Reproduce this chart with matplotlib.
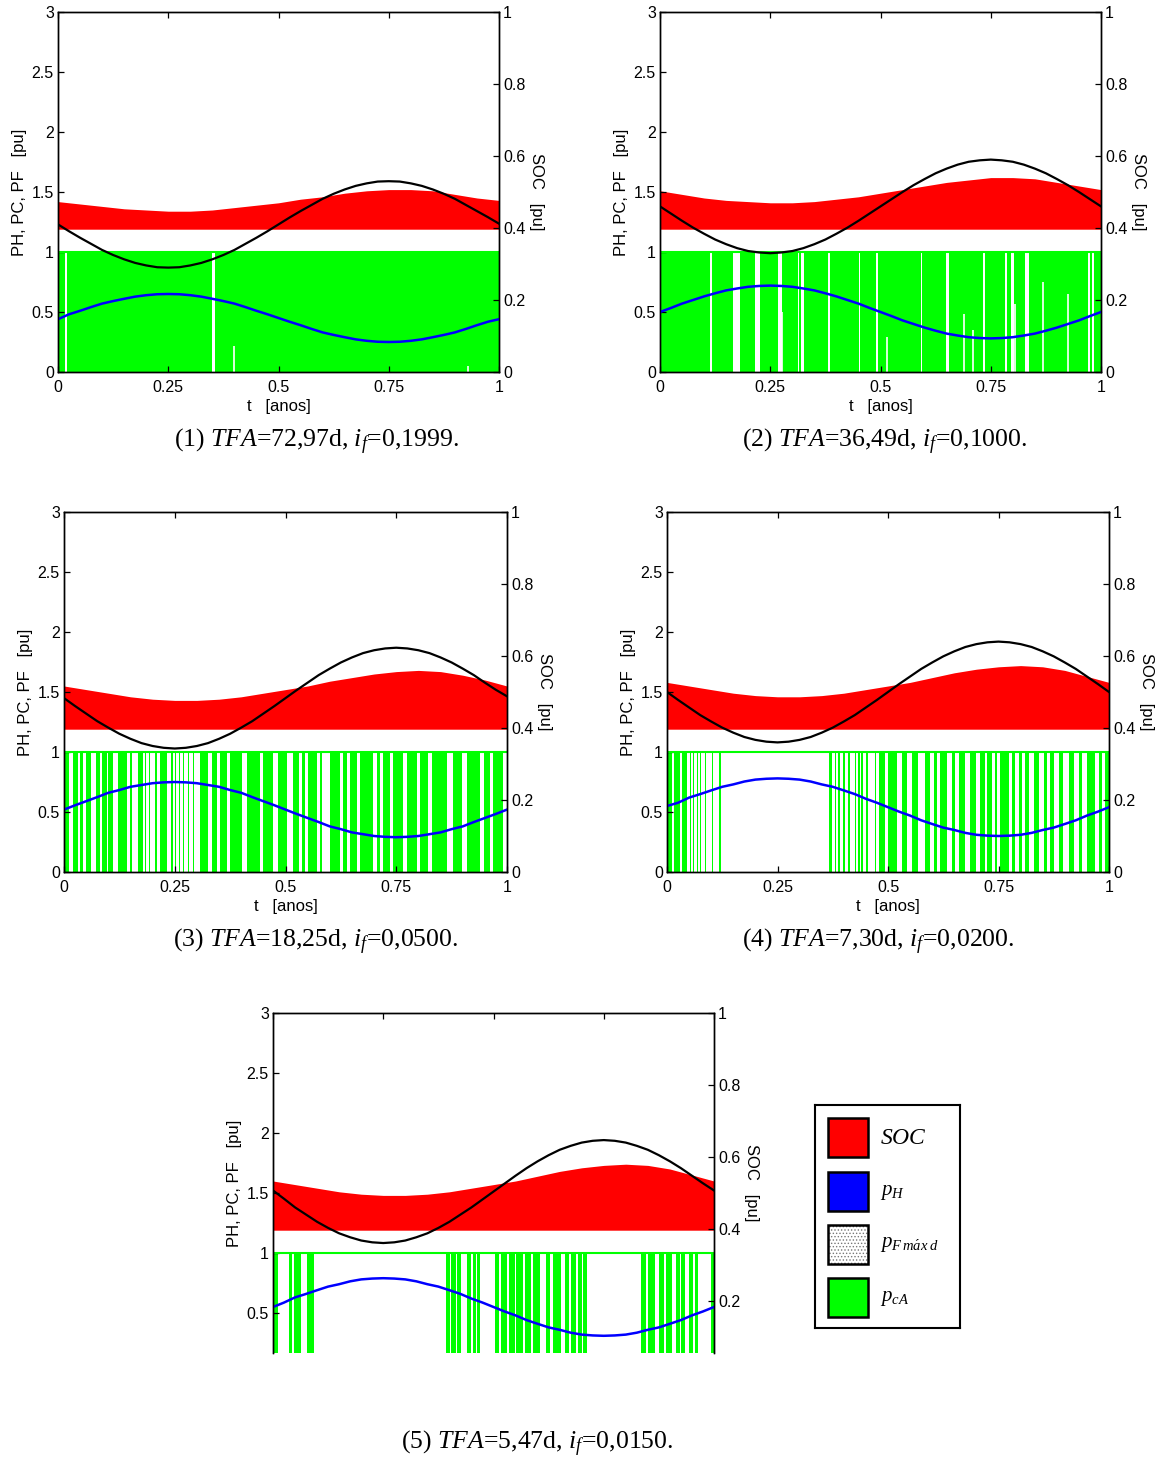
import matplotlib
matplotlib.use('Agg')
import matplotlib.pyplot as plt
from matplotlib.patches import Rectangle

plt.rcParams['font.family'] = ['Liberation Sans', 'DejaVu Sans']
plt.rcParams['mathtext.fontset'] = 'custom'
plt.rcParams['mathtext.rm'] = 'Liberation Serif'
plt.rcParams['mathtext.it'] = 'Liberation Serif:italic'
plt.rcParams['hatch.linewidth'] = 0.6

# ---------------- data ----------------
T = [0.00, 0.05, 0.10, 0.15, 0.20, 0.25, 0.30, 0.35, 0.40, 0.45, 0.50,
     0.55, 0.60, 0.65, 0.70, 0.75, 0.80, 0.85, 0.90, 0.95, 1.00]
T_FINE = [0.000, 0.025, 0.050, 0.075, 0.100, 0.125, 0.150, 0.175, 0.200, 0.225,
          0.250, 0.275, 0.300, 0.325, 0.350, 0.375, 0.400, 0.425, 0.450, 0.475,
          0.500, 0.525, 0.550, 0.575, 0.600, 0.625, 0.650, 0.675, 0.700, 0.725,
          0.750, 0.775, 0.800, 0.825, 0.850, 0.875, 0.900, 0.925, 0.950, 0.975, 1.000]

RED_BASE = 1.19

RED_TOP_1 = [1.42, 1.40, 1.38, 1.36, 1.35, 1.34, 1.34, 1.35, 1.37, 1.39, 1.41,
             1.44, 1.46, 1.49, 1.51, 1.52, 1.52, 1.51, 1.48, 1.45, 1.43]
RED_TOP_2 = [1.51, 1.48, 1.45, 1.43, 1.42, 1.41, 1.41, 1.42, 1.44, 1.46, 1.49,
             1.52, 1.55, 1.58, 1.60, 1.62, 1.62, 1.61, 1.58, 1.55, 1.52]
RED_TOP_3 = [1.55, 1.52, 1.49, 1.46, 1.44, 1.43, 1.43, 1.44, 1.46, 1.49, 1.52,
             1.55, 1.59, 1.62, 1.65, 1.67, 1.68, 1.67, 1.64, 1.60, 1.55]
RED_TOP_4 = [1.58, 1.55, 1.52, 1.49, 1.47, 1.46, 1.46, 1.47, 1.49, 1.52, 1.55,
             1.58, 1.62, 1.66, 1.69, 1.71, 1.72, 1.71, 1.68, 1.63, 1.58]
RED_TOP_5 = [1.60, 1.57, 1.54, 1.51, 1.49, 1.48, 1.48, 1.49, 1.51, 1.54, 1.57,
             1.60, 1.64, 1.68, 1.71, 1.73, 1.74, 1.73, 1.70, 1.65, 1.60]

SOC_1 = [0.410, 0.391, 0.373, 0.356, 0.339, 0.325, 0.313, 0.303, 0.296, 0.291, 0.290,
         0.291, 0.296, 0.303, 0.313, 0.325, 0.339, 0.356, 0.373, 0.391, 0.410,
         0.429, 0.447, 0.464, 0.481, 0.495, 0.507, 0.517, 0.524, 0.529, 0.530,
         0.529, 0.524, 0.517, 0.507, 0.495, 0.481, 0.464, 0.447, 0.430, 0.412]
SOC_2 = [0.460, 0.440, 0.420, 0.401, 0.384, 0.368, 0.355, 0.344, 0.336, 0.332, 0.330,
         0.332, 0.336, 0.344, 0.355, 0.368, 0.384, 0.401, 0.420, 0.440, 0.460,
         0.480, 0.500, 0.519, 0.536, 0.552, 0.565, 0.576, 0.584, 0.588, 0.590,
         0.588, 0.584, 0.576, 0.565, 0.552, 0.536, 0.519, 0.500, 0.480, 0.460]
SOC_3 = [0.483, 0.461, 0.440, 0.419, 0.401, 0.384, 0.370, 0.358, 0.350, 0.345, 0.343,
         0.345, 0.350, 0.358, 0.370, 0.384, 0.401, 0.419, 0.440, 0.461, 0.483,
         0.505, 0.526, 0.547, 0.565, 0.582, 0.596, 0.608, 0.616, 0.621, 0.623,
         0.621, 0.616, 0.608, 0.596, 0.582, 0.565, 0.547, 0.526, 0.506, 0.488]
SOC_4 = [0.500, 0.478, 0.457, 0.436, 0.418, 0.401, 0.387, 0.375, 0.367, 0.362, 0.360,
         0.362, 0.367, 0.375, 0.387, 0.401, 0.418, 0.436, 0.457, 0.478, 0.500,
         0.522, 0.543, 0.564, 0.582, 0.599, 0.613, 0.625, 0.633, 0.638, 0.640,
         0.638, 0.633, 0.625, 0.613, 0.599, 0.582, 0.564, 0.543, 0.522, 0.500]
SOC_5 = [0.507, 0.484, 0.460, 0.440, 0.420, 0.403, 0.388, 0.377, 0.368, 0.363, 0.361,
         0.363, 0.368, 0.377, 0.388, 0.403, 0.420, 0.440, 0.460, 0.482, 0.504,
         0.526, 0.548, 0.569, 0.588, 0.605, 0.620, 0.631, 0.640, 0.645, 0.647,
         0.645, 0.640, 0.631, 0.620, 0.605, 0.588, 0.569, 0.548, 0.527, 0.507]

PH_1 = [0.44, 0.481, 0.51, 0.541, 0.57, 0.591, 0.61, 0.628, 0.64, 0.648, 0.65,
        0.648, 0.64, 0.628, 0.61, 0.591, 0.57, 0.541, 0.51, 0.481, 0.45,
        0.419, 0.39, 0.359, 0.33, 0.309, 0.29, 0.272, 0.26, 0.252, 0.25,
        0.252, 0.26, 0.272, 0.29, 0.309, 0.33, 0.359, 0.39, 0.419, 0.44]
PH_2 = [0.50, 0.534, 0.57, 0.600, 0.63, 0.656, 0.68, 0.696, 0.71, 0.717, 0.72,
        0.717, 0.71, 0.696, 0.68, 0.656, 0.63, 0.600, 0.57, 0.534, 0.50,
        0.466, 0.43, 0.400, 0.37, 0.344, 0.32, 0.304, 0.29, 0.283, 0.28,
        0.283, 0.29, 0.304, 0.32, 0.344, 0.37, 0.400, 0.43, 0.466, 0.50]
PH_3 = [0.52, 0.556, 0.59, 0.624, 0.66, 0.683, 0.71, 0.725, 0.74, 0.747, 0.75,
        0.747, 0.74, 0.725, 0.71, 0.683, 0.66, 0.624, 0.59, 0.556, 0.52,
        0.484, 0.45, 0.416, 0.38, 0.357, 0.33, 0.315, 0.30, 0.293, 0.29,
        0.293, 0.30, 0.315, 0.33, 0.357, 0.38, 0.416, 0.45, 0.484, 0.52]
PH_4 = [0.55, 0.577, 0.62, 0.649, 0.68, 0.710, 0.73, 0.754, 0.77, 0.777, 0.78,
        0.777, 0.77, 0.754, 0.73, 0.710, 0.68, 0.649, 0.61, 0.577, 0.54,
        0.503, 0.47, 0.431, 0.40, 0.370, 0.35, 0.326, 0.31, 0.303, 0.30,
        0.303, 0.31, 0.326, 0.35, 0.370, 0.40, 0.431, 0.47, 0.503, 0.54]
PH_5 = [0.55, 0.587, 0.63, 0.659, 0.69, 0.720, 0.74, 0.764, 0.78, 0.787, 0.79,
        0.787, 0.78, 0.764, 0.74, 0.720, 0.69, 0.659, 0.62, 0.587, 0.55,
        0.513, 0.48, 0.441, 0.41, 0.380, 0.36, 0.336, 0.32, 0.313, 0.31,
        0.313, 0.32, 0.336, 0.36, 0.380, 0.41, 0.441, 0.48, 0.513, 0.55]

# green (pcA) "on" intervals (start, end) in years
GREEN_1 = [(0.0, 0.016), (0.021, 0.350), (0.356, 1.0)]
GREEN_2 = [(0.0, 0.113), (0.117, 0.165), (0.181, 0.215), (0.226, 0.268), (0.277, 0.312),
           (0.315, 0.320), (0.326, 0.382), (0.385, 0.451), (0.454, 0.489), (0.494, 0.592),
           (0.595, 0.649), (0.655, 0.732), (0.737, 0.782), (0.786, 0.797), (0.803, 0.828),
           (0.837, 0.971), (0.976, 0.980), (0.984, 1.0)]
GREEN_3 = [(0.0, 0.012), (0.020, 0.032), (0.036, 0.044), (0.050, 0.062), (0.072, 0.081),
           (0.085, 0.096), (0.100, 0.111), (0.123, 0.142), (0.149, 0.153), (0.168, 0.179),
           (0.182, 0.185), (0.191, 0.194), (0.206, 0.209), (0.217, 0.232), (0.242, 0.245),
           (0.250, 0.253), (0.259, 0.262), (0.268, 0.271), (0.280, 0.283), (0.291, 0.294),
           (0.307, 0.326), (0.333, 0.345), (0.352, 0.367), (0.375, 0.401), (0.412, 0.442),
           (0.450, 0.472), (0.484, 0.503), (0.518, 0.531), (0.537, 0.544), (0.551, 0.570),
           (0.578, 0.582), (0.600, 0.623), (0.630, 0.638), (0.646, 0.661), (0.668, 0.698),
           (0.706, 0.713), (0.721, 0.736), (0.743, 0.766), (0.774, 0.796), (0.804, 0.822),
           (0.830, 0.864), (0.879, 0.898), (0.909, 0.939), (0.947, 0.962), (0.969, 0.992)]
GREEN_4 = [(0.0, 0.012), (0.015, 0.030), (0.033, 0.045), (0.052, 0.055), (0.059, 0.062),
           (0.067, 0.070), (0.074, 0.077), (0.086, 0.089), (0.101, 0.104), (0.117, 0.123),
           (0.366, 0.373), (0.380, 0.383), (0.388, 0.391), (0.399, 0.402), (0.410, 0.413),
           (0.425, 0.428), (0.433, 0.436), (0.440, 0.443), (0.451, 0.454), (0.470, 0.473),
           (0.479, 0.494), (0.501, 0.520), (0.532, 0.543), (0.554, 0.569), (0.584, 0.596),
           (0.603, 0.611), (0.618, 0.633), (0.645, 0.652), (0.660, 0.675), (0.686, 0.698),
           (0.709, 0.720), (0.724, 0.735), (0.743, 0.747), (0.754, 0.773), (0.781, 0.788),
           (0.796, 0.803), (0.811, 0.818), (0.830, 0.841), (0.852, 0.860), (0.867, 0.875),
           (0.886, 0.897), (0.909, 0.920), (0.931, 0.939), (0.950, 0.969), (0.977, 0.984),
           (0.992, 1.0)]
GREEN_5 = [(0.0, 0.011), (0.036, 0.043), (0.048, 0.064), (0.078, 0.094), (0.392, 0.401),
           (0.403, 0.416), (0.418, 0.426), (0.441, 0.450), (0.454, 0.461), (0.463, 0.469),
           (0.503, 0.512), (0.516, 0.530), (0.536, 0.548), (0.552, 0.566), (0.572, 0.586),
           (0.590, 0.606), (0.618, 0.628), (0.634, 0.652), (0.662, 0.672), (0.676, 0.687),
           (0.692, 0.700), (0.704, 0.711), (0.834, 0.845), (0.850, 0.866), (0.876, 0.886),
           (0.892, 0.904), (0.914, 0.922), (0.926, 0.934), (0.943, 0.952), (0.957, 0.964),
           (0.993, 1.0)]

# partial white gaps inside green (t, height)
PARTIAL_1 = [(0.399, 0.22), (0.930, 0.05)]
PARTIAL_2 = [(0.277, 0.50), (0.492, 0.85), (0.515, 0.29), (0.689, 0.48), (0.709, 0.35),
             (0.806, 0.57), (0.869, 0.75), (0.925, 0.65)]
PARTIAL_3 = []
PARTIAL_4 = []
PARTIAL_5 = []

CAPTIONS = [r'(1) $\mathit{TFA}$=72,97d, $i_f$=0,1999.',
            r'(2) $\mathit{TFA}$=36,49d, $i_f$=0,1000.',
            r'(3) $\mathit{TFA}$=18,25d, $i_f$=0,0500.',
            r'(4) $\mathit{TFA}$=7,30d, $i_f$=0,0200.',
            r'(5) $\mathit{TFA}$=5,47d, $i_f$=0,0150.']

YTICKS_L = [0, 0.5, 1, 1.5, 2, 2.5, 3]
YTICKLABELS_L = ['0', '0.5', '1', '1.5', '2', '2.5', '3']
YTICKS_R = [0, 0.2, 0.4, 0.6, 0.8, 1]
YTICKLABELS_R = ['0', '0.2', '0.4', '0.6', '0.8', '1']
XTICKS = [0, 0.25, 0.5, 0.75, 1]
XTICKLABELS = ['0', '0.25', '0.5', '0.75', '1']

LEGEND_LABELS = [r'$\mathit{SOC}$', r'$p_H$', r'$p_{F\,m\acute{a}x\;d}$', r'$p_{cA}$']

RED_TOPS = [RED_TOP_1, RED_TOP_2, RED_TOP_3, RED_TOP_4, RED_TOP_5]
SOCS = [SOC_1, SOC_2, SOC_3, SOC_4, SOC_5]
PHS = [PH_1, PH_2, PH_3, PH_4, PH_5]
GREENS = [GREEN_1, GREEN_2, GREEN_3, GREEN_4, GREEN_5]
PARTIALS = [PARTIAL_1, PARTIAL_2, PARTIAL_3, PARTIAL_4, PARTIAL_5]

# ---------------- layout ----------------
W, H = 1160, 1461
fig = plt.figure(figsize=(W / 100, H / 100), dpi=100)

# (left, right, top, bottom) pixel boxes
BOXES = [(58, 499, 12, 372), (660, 1101, 12, 372), (64, 507, 512, 872),
         (667, 1109, 512, 872), (273, 714, 1013, 1353)]
CAP_POS = [(316, 442), (885, 442), (316, 942), (878, 942), (537, 1444)]
FULL_H = 360.0

RED = '#ff0000'
GREEN = '#00ff00'
BLUE = '#0000ff'
TICK_FS = 11.5
LABEL_FS = 12

for i, (l, r, t, b) in enumerate(BOXES):
    ax = fig.add_axes([l / W, 1 - b / H, (r - l) / W, (b - t) / H])
    frac = (b - t) / FULL_H
    ylo_l = 3 - 3 * frac
    ylo_r = 1 - frac

    ax.fill_between(T, RED_BASE, RED_TOPS[i], color=RED, lw=0, zorder=1)
    ax.broken_barh([(s, e - s) for s, e in GREENS[i]], (0, 1),
                   facecolor=GREEN, edgecolor='none', zorder=1)
    for x, h in PARTIALS[i]:
        ax.vlines(x, 0, h, color='white', lw=1.2, zorder=1.5)
    ax.hlines(1, 0, 1, color=GREEN, lw=1.5, zorder=1.6)
    ax.plot(T_FINE, PHS[i], color=BLUE, lw=1.8, zorder=3)

    ax.set_xlim(0, 1)
    ax.set_ylim(ylo_l, 3)
    ax.set_yticks([v for v in YTICKS_L if v >= ylo_l - 1e-9])
    ax.set_yticklabels([lab for v, lab in zip(YTICKS_L, YTICKLABELS_L) if v >= ylo_l - 1e-9])
    ax.set_xticks(XTICKS)
    ax.set_xticklabels(XTICKLABELS)
    ax.tick_params(direction='in', length=4, width=0.9, labelsize=TICK_FS, pad=3,
                   top=True, right=False)
    ax.tick_params(axis='x', pad=6)
    ax.set_ylabel('PH, PC, PF   [pu]', fontsize=LABEL_FS, labelpad=3)

    ax2 = ax.twinx()
    ax2.plot(T_FINE, SOCS[i], color='black', lw=1.6, zorder=4)
    ax2.set_ylim(ylo_r, 1)
    ax2.set_yticks([v for v in YTICKS_R if v >= ylo_r - 1e-9])
    ax2.set_yticklabels([lab for v, lab in zip(YTICKS_R, YTICKLABELS_R) if v >= ylo_r - 1e-9])
    ax2.tick_params(direction='in', length=4, width=0.9, labelsize=TICK_FS, pad=3)
    ax2.set_ylabel('SOC   [pu]', fontsize=LABEL_FS, rotation=270, labelpad=13)

    for a in (ax, ax2):
        for sp in a.spines.values():
            sp.set_linewidth(1.0)

    if i == 4:
        for a in (ax, ax2):
            a.spines['bottom'].set_visible(False)
        ax.tick_params(bottom=False, labelbottom=False)
    else:
        ax.set_xlabel('t   [anos]', fontsize=LABEL_FS, labelpad=3)

    cx, cy = CAP_POS[i]
    fig.text(cx / W, 1 - cy / H, CAPTIONS[i], ha='center', va='center',
             fontsize=18.5, family='Liberation Serif')

# ---------------- legend ----------------
lx0, lx1, ly0, ly1 = 815, 960, 1105, 1328
axl = fig.add_axes([lx0 / W, 1 - ly1 / H, (lx1 - lx0) / W, (ly1 - ly0) / H])
axl.set_xlim(lx0, lx1)
axl.set_ylim(ly1, ly0)
axl.set_xticks([])
axl.set_yticks([])
for sp in axl.spines.values():
    sp.set_linewidth(1.5)
rows_y = [1118, 1172, 1225, 1278]
fills = [RED, BLUE, None, GREEN]
for y, fc, lab in zip(rows_y, fills, LEGEND_LABELS):
    if fc is None:
        axl.add_patch(Rectangle((828, y), 40, 39, facecolor='white', edgecolor='#777777',
                                hatch='.....', lw=0))
        axl.add_patch(Rectangle((828, y), 40, 39, facecolor='none', edgecolor='black', lw=1.8))
    else:
        axl.add_patch(Rectangle((828, y), 40, 39, facecolor=fc, edgecolor='black', lw=1.8))
    axl.text(880, y + 20, lab, ha='left', va='center',
             fontsize=17 if lab == LEGEND_LABELS[0] else 15)

fig.savefig('out.png', dpi=100)
